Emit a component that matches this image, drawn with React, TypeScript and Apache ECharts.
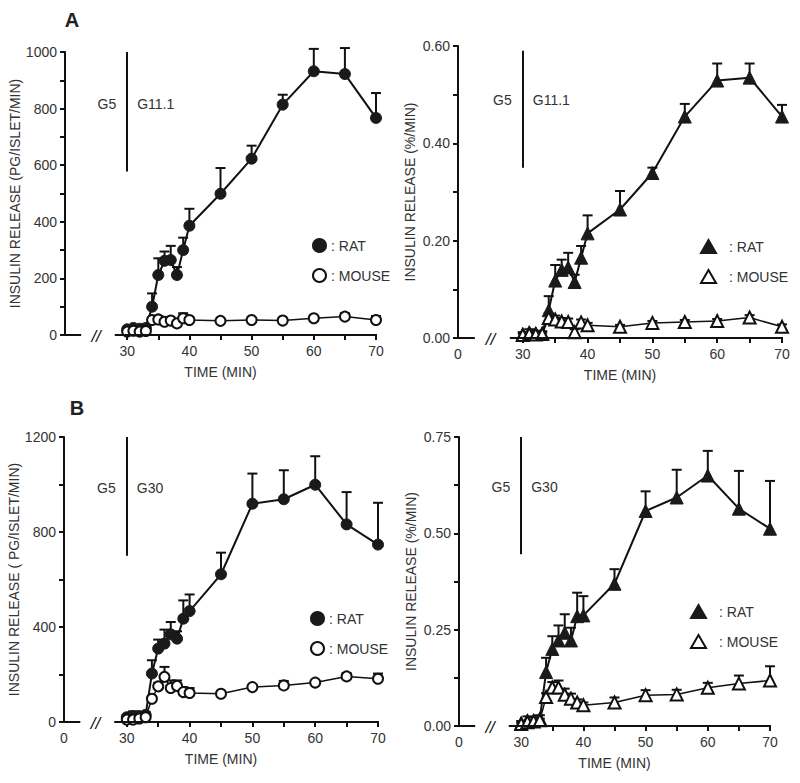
import React, { useEffect, useRef } from "react";
import * as echarts from "echarts";

// ---- data ----
const times = [30, 31, 32, 33, 34, 35, 36, 37, 38, 39, 40, 45, 50, 55, 60, 65, 70];

// Panel A, left (pg/islet/min)
const ratA_pg = [20, 25, 22, 25, 100, 212, 262, 265, 212, 300, 386, 499, 623, 814, 932, 922, 767];
const ratA_pg_err = [8, 10, 8, 8, 47, 59, 33, 50, 28, 44, 60, 91, 46, 35, 79, 92, 88];
const mouseA_pg = [12, 15, 12, 14, 53, 55, 47, 51, 41, 59, 53, 50, 53, 51, 59, 65, 53];
const mouseA_pg_err = [5, 6, 5, 5, 5, 12, 6, 6, 5, 18, 9, 5, 5, 5, 5, 12, 14];

// Panel A, right (%/min)
const ratA_pct = [0.008, 0.012, 0.01, 0.01, 0.057, 0.118, 0.14, 0.145, 0.115, 0.165, 0.215, 0.264, 0.339, 0.455, 0.529, 0.535, 0.455];
const ratA_pct_err = [0.004, 0.006, 0.005, 0.004, 0.029, 0.032, 0.021, 0.03, 0.015, 0.024, 0.037, 0.038, 0.011, 0.026, 0.035, 0.029, 0.024];
const mouseA_pct = [0.006, 0.008, 0.007, 0.008, 0.041, 0.038, 0.034, 0.033, 0.012, 0.032, 0.026, 0.023, 0.031, 0.033, 0.035, 0.042, 0.023];
const mouseA_pct_err = [0.003, 0.003, 0.003, 0.003, 0.01, 0.008, 0.007, 0.007, 0.006, 0.006, 0.005, 0.004, 0.004, 0.004, 0.004, 0.005, 0.005];

// Panel B, left (pg/islet/min)
const ratB_pg = [20, 25, 25, 30, 204, 309, 330, 369, 351, 435, 467, 622, 919, 938, 999, 832, 747];
const ratB_pg_err = [10, 20, 15, 12, 56, 38, 59, 52, 31, 77, 70, 91, 127, 122, 120, 136, 176];
const mouseB_pg = [10, 10, 15, 20, 98, 150, 190, 143, 152, 126, 122, 119, 147, 154, 166, 192, 182];
const mouseB_pg_err = [5, 5, 5, 5, 10, 15, 42, 32, 23, 21, 21, 8, 8, 19, 8, 14, 22];

// Panel B, right (%/min)
const ratB_pct = [0.008, 0.015, 0.015, 0.02, 0.14, 0.2, 0.222, 0.242, 0.222, 0.285, 0.287, 0.369, 0.558, 0.593, 0.65, 0.564, 0.512];
const ratB_pct_err = [0.005, 0.01, 0.008, 0.008, 0.037, 0.033, 0.039, 0.048, 0.033, 0.061, 0.05, 0.038, 0.051, 0.072, 0.064, 0.098, 0.124];
const mouseB_pct = [0.005, 0.01, 0.012, 0.015, 0.075, 0.1, 0.1, 0.081, 0.071, 0.061, 0.054, 0.061, 0.08, 0.082, 0.099, 0.11, 0.118];
const mouseB_pct_err = [0.003, 0.004, 0.004, 0.004, 0.01, 0.014, 0.018, 0.016, 0.013, 0.008, 0.007, 0.013, 0.013, 0.012, 0.013, 0.021, 0.037];

// x-axis ticks / labels (display value 20 stands for the broken "0")
const xTickValues = [30, 35, 40, 45, 50, 55, 60, 65, 70];
const xLabelValuesWithZero = [20, 30, 40, 50, 60, 70];
const xLabelValuesNoZero = [30, 40, 50, 60, 70];

const FONT = '"Liberation Sans", Arial, Helvetica, sans-serif';
const TXT = "#333";
const INK = "#111";
const X_MIN = 20;
const X_MAX = 70;

type Panel = {
  grid: { left: number; top: number; width: number; height: number };
  yMax: number;
  yInterval: number;
  decimals: number;
  yName: string;
  yNameGap: number;
  rat: number[];
  ratErr: number[];
  mouse: number[];
  mouseErr: number[];
  tri: boolean;
  showZero: boolean;
  gLine: [number, number];
  gLabelY: number;
  gText: string;
  legend: { left: number; top: number };
};

const panels: Panel[] = [
  {
    grid: { left: 65, top: 52, width: 311, height: 283 },
    yMax: 1000, yInterval: 200, decimals: 0,
    yName: "INSULIN RELEASE (PG/ISLET/MIN)", yNameGap: 37,
    rat: ratA_pg, ratErr: ratA_pg_err, mouse: mouseA_pg, mouseErr: mouseA_pg_err,
    tri: false, showZero: false, gLine: [1000, 578], gLabelY: 816, gText: "G11.1",
    legend: { left: 312, top: 238 },
  },
  {
    grid: { left: 458, top: 46, width: 324, height: 292 },
    yMax: 0.6, yInterval: 0.2, decimals: 2,
    yName: "INSULIN RELEASE (%/MIN)", yNameGap: 41,
    rat: ratA_pct, ratErr: ratA_pct_err, mouse: mouseA_pct, mouseErr: mouseA_pct_err,
    tri: true, showZero: true, gLine: [0.59, 0.35], gLabelY: 0.489, gText: "G11.1",
    legend: { left: 700, top: 239 },
  },
  {
    grid: { left: 64, top: 437, width: 314, height: 285 },
    yMax: 1200, yInterval: 400, decimals: 0,
    yName: "INSULIN RELEASE ( PG/ISLET/MIN)", yNameGap: 37,
    rat: ratB_pg, ratErr: ratB_pg_err, mouse: mouseB_pg, mouseErr: mouseB_pg_err,
    tri: false, showZero: true, gLine: [1200, 700], gLabelY: 985, gText: "G30",
    legend: { left: 310, top: 611 },
  },
  {
    grid: { left: 459, top: 437, width: 311, height: 289 },
    yMax: 0.75, yInterval: 0.25, decimals: 2,
    yName: "INSULIN RELEASE (%/MIN)", yNameGap: 41,
    rat: ratB_pct, ratErr: ratB_pct_err, mouse: mouseB_pct, mouseErr: mouseB_pct_err,
    tri: true, showZero: true, gLine: [0.75, 0.446], gLabelY: 0.62, gText: "G30",
    legend: { left: 690, top: 604 },
  },
];

function buildOption() {
  const grid: any[] = [];
  const xAxis: any[] = [];
  const yAxis: any[] = [];
  const series: any[] = [];
  const legend: any[] = [];
  const graphic: any[] = [];

  panels.forEach((p, i) => {
    grid.push({ ...p.grid, containLabel: false });
    const labelVals = p.showZero ? xLabelValuesWithZero : xLabelValuesNoZero;
    xAxis.push({
      type: "value",
      gridIndex: i,
      min: X_MIN,
      max: X_MAX,
      name: "TIME (MIN)",
      nameLocation: "middle",
      nameGap: 30,
      nameTextStyle: { fontFamily: FONT, fontSize: 14, color: TXT },
      axisLine: { show: false },
      axisTick: { show: true, customValues: xTickValues, length: 5, lineStyle: { color: INK, width: 2 } },
      axisLabel: {
        customValues: labelVals,
        formatter: (v: number) => (v === X_MIN ? "0" : String(v)),
        fontFamily: FONT, fontSize: 14, color: TXT, margin: 9,
      },
      splitLine: { show: false },
    });
    yAxis.push({
      type: "value",
      gridIndex: i,
      min: 0,
      max: p.yMax,
      interval: p.yInterval,
      name: p.yName,
      nameLocation: "middle",
      nameGap: p.yNameGap,
      nameTextStyle: { fontFamily: FONT, fontSize: 14, color: TXT },
      axisLine: { show: true, onZero: false, lineStyle: { color: INK, width: 2 } },
      axisTick: { show: true, length: 5, lineStyle: { color: INK, width: 2 } },
      minorTick: { show: true, splitNumber: 2, length: 5, lineStyle: { color: INK, width: 2 } },
      axisLabel: {
        formatter: (v: number) => v.toFixed(p.decimals),
        fontFamily: FONT, fontSize: 14, color: TXT, margin: 8,
      },
      splitLine: { show: false },
      minorSplitLine: { show: false },
    });

    const ratName = "RAT_" + i;
    const mouseName = "MOUSE_" + i;
    const sym = p.tri ? "triangle" : "circle";
    const ratSize = p.tri ? 13 : 11;
    const mouseSize = p.tri ? 12 : 10;

    series.push({
      type: "line",
      name: ratName,
      xAxisIndex: i,
      yAxisIndex: i,
      data: times.map((t, k) => [t, p.rat[k]]),
      symbol: sym,
      symbolSize: ratSize,
      showAllSymbol: true,
      lineStyle: { color: INK, width: 2 },
      itemStyle: { color: "#1a1a1a", borderColor: "#1a1a1a", borderWidth: 1 },
      z: 4,
      markLine: {
        silent: true,
        symbol: "none",
        label: { show: false },
        lineStyle: { color: INK, width: 2, type: "solid" },
        data: [[{ coord: [30, p.gLine[0]] }, { coord: [30, p.gLine[1]] }]],
      },
      markPoint: {
        silent: true,
        symbol: "rect",
        symbolSize: 0,
        data: [
          { coord: [30, p.gLabelY], label: { show: true, formatter: "G5", position: "left", distance: 11, fontFamily: FONT, fontSize: 14, color: TXT } },
          { coord: [30, p.gLabelY], label: { show: true, formatter: p.gText, position: "right", distance: 10, fontFamily: FONT, fontSize: 14, color: TXT } },
        ],
      },
    });
    series.push({
      type: "line",
      name: mouseName,
      xAxisIndex: i,
      yAxisIndex: i,
      data: times.map((t, k) => [t, p.mouse[k]]),
      symbol: sym,
      symbolSize: mouseSize,
      showAllSymbol: true,
      lineStyle: { color: INK, width: 1.5 },
      itemStyle: { color: "#ffffff", borderColor: INK, borderWidth: 2 },
      z: 4,
    });

    const errRender = (params: any, api: any) => {
      const x = api.value(0);
      const y = api.value(1);
      const e = api.value(2);
      const p0 = api.coord([x, y]);
      const p1 = api.coord([x, y + e]);
      const hw = 5;
      return {
        type: "group",
        children: [
          { type: "line", shape: { x1: p0[0], y1: p0[1], x2: p1[0], y2: p1[1] }, style: { stroke: INK, lineWidth: 2 } },
          { type: "line", shape: { x1: p1[0] - hw, y1: p1[1], x2: p1[0] + hw, y2: p1[1] }, style: { stroke: INK, lineWidth: 2 } },
        ],
      };
    };
    series.push({
      type: "custom",
      name: ratName + "_err",
      xAxisIndex: i,
      yAxisIndex: i,
      data: times.map((t, k) => [t, p.rat[k], p.ratErr[k]]),
      encode: { x: 0, y: 1 },
      renderItem: errRender,
      z: 3,
      silent: true,
    });
    series.push({
      type: "custom",
      name: mouseName + "_err",
      xAxisIndex: i,
      yAxisIndex: i,
      data: times.map((t, k) => [t, p.mouse[k], p.mouseErr[k]]),
      encode: { x: 0, y: 1 },
      renderItem: errRender,
      z: 3,
      silent: true,
    });

    legend.push({
      orient: "vertical",
      left: p.legend.left,
      top: p.legend.top,
      padding: 0,
      itemWidth: p.tri ? 15 : 13,
      itemHeight: 13,
      itemGap: 15,
      selectedMode: false,
      data: [
        { name: ratName, icon: sym },
        { name: mouseName, icon: sym },
      ],
      formatter: (name: string) => ": " + name.split("_")[0],
      textStyle: { fontFamily: FONT, fontSize: 14, color: TXT, padding: [0, 0, 0, p.tri ? 8 : 0] },
    });

    // broken x axis line
    const g = p.grid;
    const px = (v: number) => g.left + ((v - X_MIN) / (X_MAX - X_MIN)) * g.width;
    const yb = g.top + g.height;
    graphic.push({ type: "line", shape: { x1: g.left - 1, y1: yb, x2: px(22.6), y2: yb }, style: { stroke: INK, lineWidth: 2 }, z: 10 });
    graphic.push({ type: "line", shape: { x1: px(28), y1: yb, x2: g.left + g.width + 1, y2: yb }, style: { stroke: INK, lineWidth: 2 }, z: 10 });
    graphic.push({
      type: "text", x: px(25), y: yb + 1, z: 10,
      style: { text: "//", fontFamily: FONT, fontSize: 17, fill: INK, align: "center", verticalAlign: "middle", fontStyle: "italic" },
    });
  });

  graphic.push({ type: "text", x: 72, y: 20, style: { text: "A", fontFamily: FONT, fontSize: 20, fontWeight: "bold", fill: "#222", align: "center", verticalAlign: "middle" } });
  graphic.push({ type: "text", x: 77, y: 408, style: { text: "B", fontFamily: FONT, fontSize: 20, fontWeight: "bold", fill: "#222", align: "center", verticalAlign: "middle" } });

  return {
    animation: false,
    backgroundColor: "#ffffff",
    textStyle: { fontFamily: FONT },
    grid,
    xAxis,
    yAxis,
    series,
    legend,
    graphic,
  };
}

export default function App() {
  const ref = useRef<HTMLDivElement>(null);
  useEffect(() => {
    document.body.style.margin = "0";
    if (!ref.current) return;
    const chart = echarts.init(ref.current, undefined, { renderer: "svg" });
    chart.setOption(buildOption() as any);
    return () => chart.dispose();
  }, []);
  return <div ref={ref} style={{ width: 800, height: 783 }} />;
}
